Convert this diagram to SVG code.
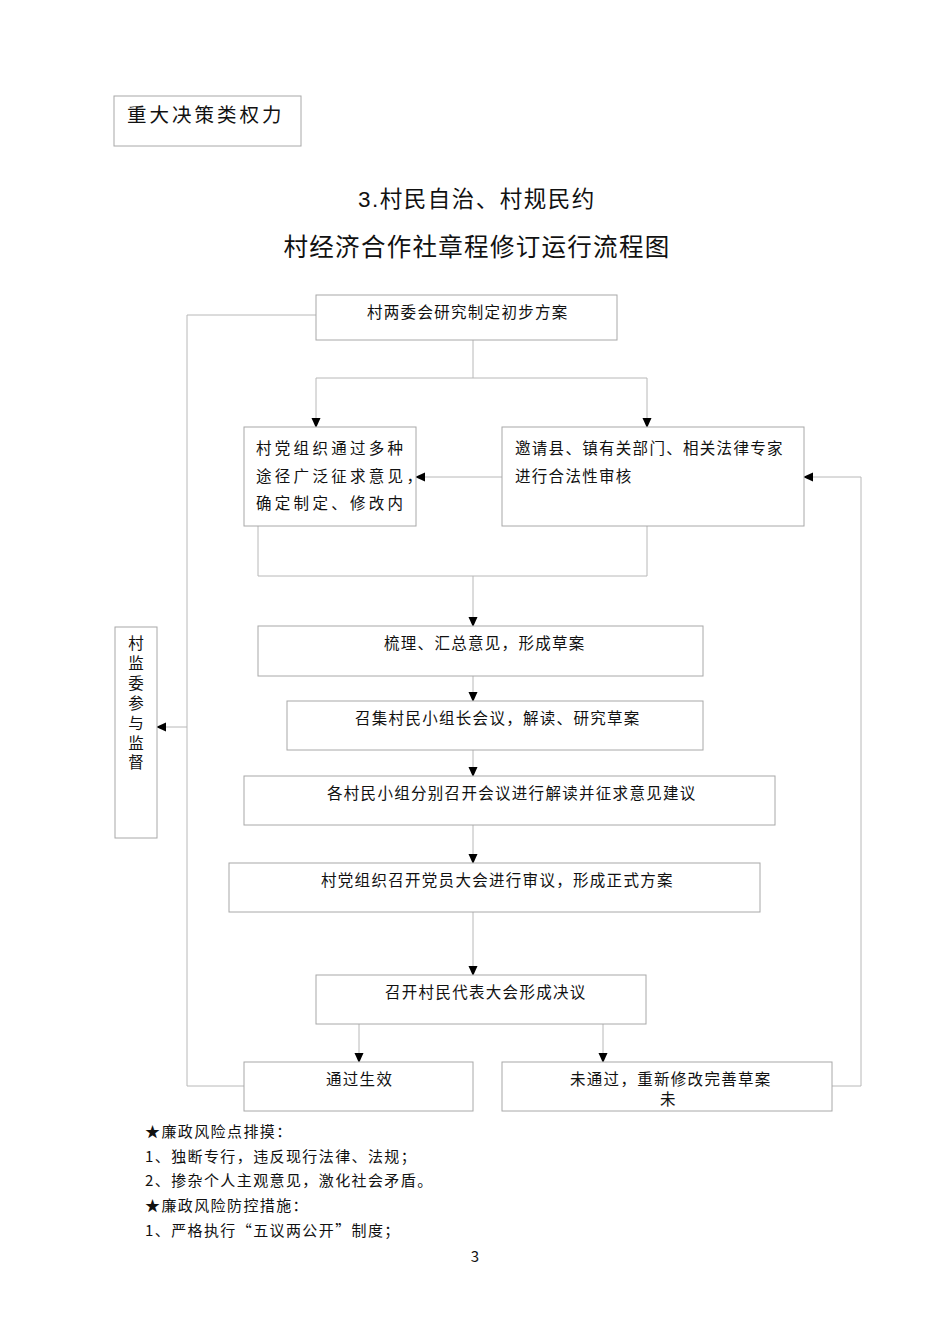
<svg xmlns="http://www.w3.org/2000/svg" width="950" height="1344" viewBox="0 0 950 1344">
<style>
.bg{fill:#fff}
.box{fill:#fff;stroke:#a8a8a8;stroke-width:1}
.ln{fill:none;stroke:#b8b8b8;stroke-width:1}
.t{font-family:"Liberation Serif","Noto Sans CJK SC",serif;font-size:15.5px;fill:#111;letter-spacing:1.3px}
.tw{letter-spacing:3.3px}
.h{font-family:"Liberation Sans","Noto Sans CJK SC",sans-serif;fill:#111}
.f{font-family:"Noto Sans CJK SC",sans-serif;font-size:15px;fill:#111;letter-spacing:1.4px}
</style>
<defs>
<marker id="ar" markerWidth="10" markerHeight="10" refX="9" refY="5" orient="auto" markerUnits="userSpaceOnUse">
<path d="M0,0.5 L10,5 L0,9.5 Z" fill="#000"/>
</marker>
</defs>
<rect class="bg" x="0" y="0" width="950" height="1344"/>

<g id="header">
<rect class="box" x="114" y="96" width="187" height="50"/>
<text class="h" x="127" y="122" font-size="19.5" letter-spacing="3">重大决策类权力</text>
</g>
<g id="title">
<text class="h" x="477" y="207" font-size="22.5" text-anchor="middle" letter-spacing="1.5">3.村民自治、村规民约</text>
<text class="h" x="477" y="256" font-size="24.5" text-anchor="middle" letter-spacing="1.3">村经济合作社章程修订运行流程图</text>
</g>

<g id="connectors">
<path class="ln" d="M473,340 V378"/>
<path class="ln" d="M316,378 H647"/>
<path class="ln" d="M316,378 V427" marker-end="url(#ar)"/>
<path class="ln" d="M647,378 V427" marker-end="url(#ar)"/>
<path class="ln" d="M502,477 H416" marker-end="url(#ar)"/>
<path class="ln" d="M832,1086 H861 V477 H804" marker-end="url(#ar)"/>
<path class="ln" d="M258,526 V576 H647 V526"/>
<path class="ln" d="M473,576 V626" marker-end="url(#ar)"/>
<path class="ln" d="M473,676 V701" marker-end="url(#ar)"/>
<path class="ln" d="M473,750 V776" marker-end="url(#ar)"/>
<path class="ln" d="M473,825 V863" marker-end="url(#ar)"/>
<path class="ln" d="M473,912 V975" marker-end="url(#ar)"/>
<path class="ln" d="M359,1024 V1062" marker-end="url(#ar)"/>
<path class="ln" d="M603,1024 V1062" marker-end="url(#ar)"/>
<path class="ln" d="M316,315 H187 V1086 H244"/>
<path class="ln" d="M187,727 H157" marker-end="url(#ar)"/>
</g>

<g id="n1">
<rect class="box" x="316" y="295" width="301" height="45"/>
<text class="t" x="367" y="318">村两委会研究制定初步方案</text>
</g>
<g id="n2">
<rect class="box" x="244" y="427" width="172" height="99"/>
<text class="t tw" x="256" y="454">村党组织通过多种</text>
<text class="t tw" x="256" y="482">途径广泛征求意见，</text>
<text class="t tw" x="256" y="509">确定制定、修改内</text>
</g>
<g id="n3">
<rect class="box" x="502" y="427" width="302" height="99"/>
<text class="t" x="515" y="454">邀请县、镇有关部门、相关法律专家</text>
<text class="t" x="515" y="482">进行合法性审核</text>
</g>
<g id="n4">
<rect class="box" x="258" y="626" width="445" height="50"/>
<text class="t" x="384" y="649">梳理、汇总意见，形成草案</text>
</g>
<g id="n5">
<rect class="box" x="287" y="701" width="416" height="49"/>
<text class="t" x="355" y="724">召集村民小组长会议，解读、研究草案</text>
</g>
<g id="n6">
<rect class="box" x="244" y="776" width="531" height="49"/>
<text class="t" x="327" y="799">各村民小组分别召开会议进行解读并征求意见建议</text>
</g>
<g id="n7">
<rect class="box" x="229" y="863" width="531" height="49"/>
<text class="t" x="321" y="886">村党组织召开党员大会进行审议，形成正式方案</text>
</g>
<g id="n8">
<rect class="box" x="316" y="975" width="330" height="49"/>
<text class="t" x="385" y="998">召开村民代表大会形成决议</text>
</g>
<g id="n9">
<rect class="box" x="244" y="1062" width="229" height="49"/>
<text class="t" x="326" y="1085">通过生效</text>
</g>
<g id="n10">
<rect class="box" x="502" y="1062" width="330" height="49"/>
<text class="t" x="570" y="1085">未通过，重新修改完善草案</text>
<text class="t" x="660" y="1105">未</text>
</g>
<g id="side">
<rect class="box" x="115" y="627" width="42" height="211"/>
<g class="t" text-anchor="middle" style="letter-spacing:0">
<text x="136" y="649">村</text>
<text x="136" y="669">监</text>
<text x="136" y="689">委</text>
<text x="136" y="709">参</text>
<text x="136" y="729">与</text>
<text x="136" y="749">监</text>
<text x="136" y="768">督</text>
</g>
</g>

<g id="notes">
<text class="f" x="145" y="1137">★廉政风险点排摸：</text>
<text class="f" x="145" y="1162">1、独断专行，违反现行法律、法规；</text>
<text class="f" x="145" y="1186">2、掺杂个人主观意见，激化社会矛盾。</text>
<text class="f" x="145" y="1211">★廉政风险防控措施：</text>
<text class="f" x="145" y="1236">1、严格执行“五议两公开”制度；</text>
<text class="f" x="475" y="1262" text-anchor="middle" style="letter-spacing:0">3</text>
</g>
</svg>
